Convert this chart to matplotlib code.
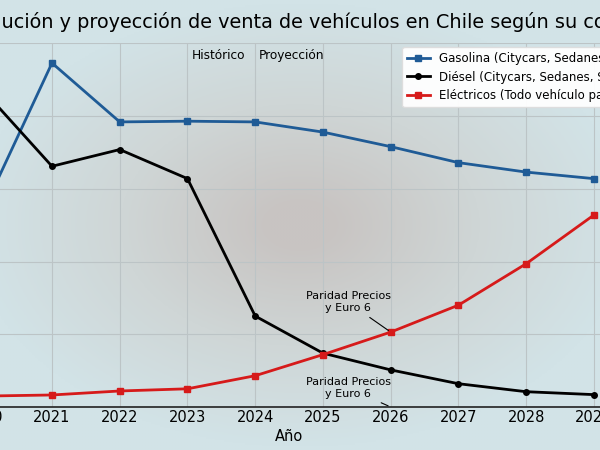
import matplotlib.pyplot as plt
import numpy as np
from matplotlib.colors import LinearSegmentedColormap

# Datos
anios = [2020, 2021, 2022, 2023, 2024, 2025, 2026, 2027, 2028, 2029]
gasolina = [27.3, 47.3, 39.2, 39.3, 39.2, 37.8, 35.8, 33.6, 32.3, 31.4]
diesel = [43.4, 33.1, 35.4, 31.4, 12.5, 7.4, 5.1, 3.2, 2.1, 1.7]
electricos = [1.5, 1.65, 2.2, 2.5, 4.3, 7.2, 10.3, 14.0, 19.7, 26.4]

etiquetas = ['Gasolina (Citycars, Sedanes, SUV)',
             'Diésel (Citycars, Sedanes, SUV)',
             'Eléctricos (Todo vehículo particular)']
titulo = 'Evolución y proyección de venta de vehículos en Chile según su combustible'

fig = plt.figure(figsize=(6, 4.5), dpi=100)

# Fondo con degradado radial (centro gris, bordes celestes)
bg = fig.add_axes([0, 0, 1, 1], zorder=-10)
yy, xx = np.mgrid[-1:1:300j, -1:1:400j]
r = np.sqrt((xx / 1.0) ** 2 + (yy / 0.9) ** 2)
cmap = LinearSegmentedColormap.from_list('fondo', ['#c8c4c2', '#cfd6d6', '#d2e3e7'])
bg.imshow(r, cmap=cmap, vmin=0.1, vmax=1.1, aspect='auto', extent=[0, 1, 0, 1])
bg.axis('off')

# Ejes más anchos que la figura (imagen recortada)
ax = fig.add_axes([-0.0827, 0.0956, 1.129, 0.808])
ax.set_facecolor('none')

ax.plot(anios, gasolina, color='#1f5b96', lw=2, marker='s', ms=4, label=etiquetas[0])
ax.plot(anios, diesel, color='black', lw=2, marker='o', ms=4, label=etiquetas[1])
ax.plot(anios, electricos, color='#d61a1a', lw=2, marker='s', ms=4, label=etiquetas[2])

ax.set_xlim(2019.5, 2029.5)
ax.set_ylim(0, 50)
ax.set_xticks(anios)
ax.set_yticks([0, 10, 20, 30, 40, 50])
ax.tick_params(axis='x', labelsize=10.5, length=0, pad=2)
ax.tick_params(axis='y', labelleft=False, length=0)
ax.grid(True, color='#bcc4c6', lw=0.8)
for s in ['top', 'right', 'left']:
    ax.spines[s].set_visible(False)
ax.spines['bottom'].set_color('#222222')
ax.spines['bottom'].set_linewidth(1.2)
ax.set_xlabel('Año', fontsize=10.5, labelpad=3)

ax.text(2023.85, 48.4, 'Histórico', ha='right', va='center', fontsize=8.7)
ax.text(2024.05, 48.4, 'Proyección', ha='left', va='center', fontsize=8.7)

ax.annotate('Paridad Precios\ny Euro 6', xy=(2026, electricos[6]), xytext=(2025.37, 14.4),
            ha='center', va='center', fontsize=8,
            arrowprops=dict(arrowstyle='-', color='black', lw=0.8))
ax.annotate('Paridad Precios\ny Euro 6', xy=(2026, 0), xytext=(2025.37, 2.6),
            ha='center', va='center', fontsize=8,
            arrowprops=dict(arrowstyle='-', color='black', lw=0.8))

ax.legend(loc='upper left', bbox_to_anchor=(0.662, 1.0), fontsize=8.5,
          handlelength=1.9, labelspacing=0.5, borderaxespad=0.3,
          frameon=True, facecolor='white', edgecolor='#dddddd', framealpha=0.95)

fig.text(-0.065, 0.952, titulo, ha='left', va='center', fontsize=13.9)

fig.savefig('out.png', dpi=100)
